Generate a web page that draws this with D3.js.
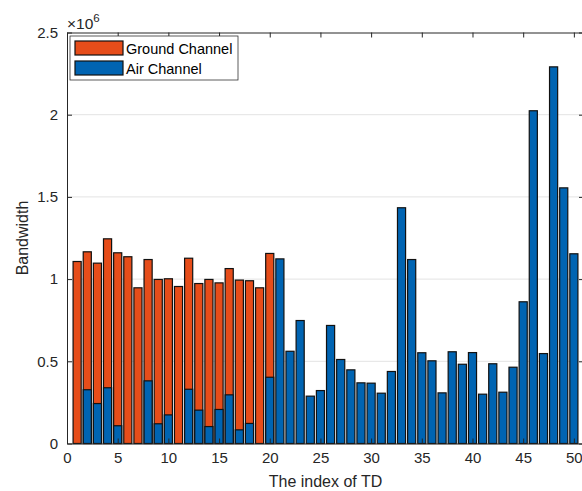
<!DOCTYPE html>
<html>
<head>
<meta charset="utf-8">
<script src="https://cdn.jsdelivr.net/npm/d3@7"></script>
<style>
  body { margin: 0; background: #fff; }
  svg { font-family: "Liberation Sans", Arial, sans-serif; }
</style>
</head>
<body>
<div id="chart"></div>
<script>
// values, in units of 10^6
var ground = [1.107, 1.166, 1.097, 1.245, 1.160, 1.136, 0.947, 1.119, 0.998, 1.002,
              0.955, 1.127, 0.973, 0.998, 0.977, 1.064, 0.994, 0.990, 0.947, 1.156];
var air = [0, 0.327, 0.243, 0.339, 0.108, 0, 0, 0.381, 0.120, 0.174,
           0, 0.330, 0.203, 0.103, 0.207, 0.296, 0.083, 0.122, 0, 0.403,
           1.123, 0.561, 0.748, 0.288, 0.322, 0.718, 0.511, 0.448, 0.369, 0.367,
           0.306, 0.438, 1.434, 1.119, 0.552, 0.503, 0.308, 0.558, 0.482, 0.553,
           0.300, 0.485, 0.312, 0.464, 0.862, 2.024, 0.547, 2.291, 1.555, 1.154];
var xTicks = [0, 5, 10, 15, 20, 25, 30, 35, 40, 45, 50];
var yTicks = [0, 0.5, 1, 1.5, 2, 2.5];
var seriesNames = ["Ground Channel", "Air Channel"];
var exponent = 6;

var w = 582, h = 491;
var mLeft = 67, mRight = 584, mTop = 32.5, mBottom = 443.5;
var colGround = "#e64d1a", colAir = "#0064b2";
var axisCol = "#262626";

var svg = d3.select("#chart").append("svg")
  .attr("width", w)
  .attr("height", h);

var x = d3.scaleLinear().domain([0, 51]).range([mLeft, mRight]);
var y = d3.scaleLinear().domain([0, 2.5]).range([mBottom, mTop]);
var barW = x(0.8) - x(0);

// horizontal grid
svg.append("g").selectAll("line")
  .data(yTicks.slice(1, -1))
  .enter().append("line")
  .attr("x1", mLeft).attr("x2", mRight)
  .attr("y1", function(d) { return y(d); })
  .attr("y2", function(d) { return y(d); })
  .attr("stroke", "#e3e3e3")
  .attr("stroke-width", 1);

function drawBars(data, color) {
  svg.append("g").selectAll("rect")
    .data(data)
    .enter().append("rect")
    .attr("x", function(d, i) { return x(i + 1) - barW / 2; })
    .attr("y", function(d) { return y(d); })
    .attr("width", barW)
    .attr("height", function(d) { return mBottom - y(d); })
    .attr("fill", color)
    .attr("stroke", "#111")
    .attr("stroke-width", 1.2)
    .attr("display", function(d) { return d > 0 ? null : "none"; });
}
drawBars(ground, colGround);
drawBars(air, colAir);

// axes (MATLAB style, ticks inward, box on)
var xAxis = svg.append("g")
  .attr("transform", "translate(0," + mBottom + ")")
  .call(d3.axisBottom(x).tickValues(xTicks).tickSize(-5).tickPadding(9).tickSizeOuter(0));
var yAxis = svg.append("g")
  .attr("transform", "translate(" + mLeft + ",0)")
  .call(d3.axisLeft(y).tickValues(yTicks).tickSize(-5).tickPadding(9).tickSizeOuter(0)
    .tickFormat(d3.format("")));
var xTop = svg.append("g")
  .attr("transform", "translate(0," + mTop + ")")
  .call(d3.axisTop(x).tickValues(xTicks).tickSize(-5).tickFormat("").tickSizeOuter(0));
var yRight = svg.append("g")
  .attr("transform", "translate(" + mRight + ",0)")
  .call(d3.axisRight(y).tickValues(yTicks).tickSize(-5).tickFormat("").tickSizeOuter(0));

[xAxis, yAxis, xTop, yRight].forEach(function(g) {
  g.selectAll("path").attr("stroke", axisCol).attr("stroke-width", 1);
  g.selectAll("line").attr("stroke", axisCol);
  g.selectAll("text").attr("fill", axisCol).attr("font-size", 15)
    .attr("font-family", "Liberation Sans, Arial, sans-serif");
});

// exponent label
var ex = svg.append("text")
  .attr("x", mLeft)
  .attr("y", 29)
  .attr("fill", axisCol)
  .attr("font-size", 15.5);
ex.append("tspan").text("\u00d710");
ex.append("tspan").attr("font-size", 11.5).attr("dy", -7).text(exponent);

// axis titles
svg.append("text")
  .attr("x", (mLeft + mRight) / 2)
  .attr("y", 487)
  .attr("text-anchor", "middle")
  .attr("fill", axisCol)
  .attr("font-size", 16)
  .text("The index of TD");

svg.append("text")
  .attr("transform", "translate(28," + (mTop + mBottom) / 2 + ") rotate(-90)")
  .attr("text-anchor", "middle")
  .attr("fill", axisCol)
  .attr("font-size", 16)
  .text("Bandwidth");

// legend
var legend = svg.append("g").attr("transform", "translate(70,36)");
legend.append("rect")
  .attr("width", 168).attr("height", 44)
  .attr("fill", "#fff")
  .attr("stroke", axisCol)
  .attr("stroke-width", 0.75);
var items = legend.selectAll("g.item")
  .data(seriesNames)
  .enter().append("g")
  .attr("class", "item")
  .attr("transform", function(d, i) { return "translate(5," + (5 + i * 20) + ")"; });
items.append("rect")
  .attr("width", 48).attr("height", 14)
  .attr("fill", function(d, i) { return i === 0 ? colGround : colAir; })
  .attr("stroke", "#111")
  .attr("stroke-width", 1.2);
items.append("text")
  .attr("x", 51)
  .attr("y", 12.5)
  .attr("fill", "#000")
  .attr("font-size", 14.5)
  .text(function(d) { return d; });
</script>
</body>
</html>
